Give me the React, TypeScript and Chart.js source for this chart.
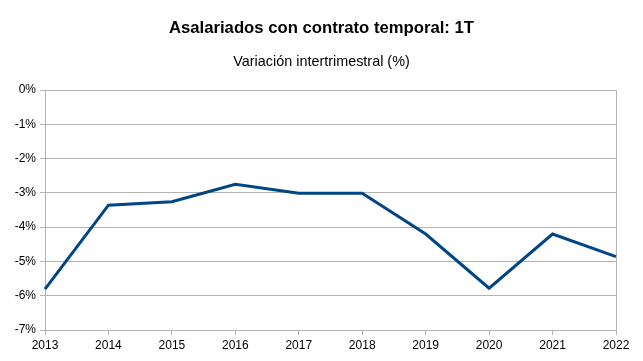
import React, { useEffect, useRef } from "react";
import { Chart, registerables } from "chart.js";

Chart.register(...registerables);

const years = ["2013", "2014", "2015", "2016", "2017", "2018", "2019", "2020", "2021", "2022"];
const variation = [-5.81, -3.36, -3.26, -2.75, -3.01, -3.01, -4.2, -5.78, -4.2, -4.86];
const titleText = "Asalariados con contrato temporal: 1T";
const subtitleText = "Variación intertrimestral (%)";

export default function App() {
  const ref = useRef<HTMLCanvasElement>(null);
  useEffect(() => {
    if (!ref.current) return;
    const gray = "#b3b3b3";
    const font = "'Liberation Sans', Arial, sans-serif";
    const chart = new Chart(ref.current, {
      type: "line",
      data: {
        labels: years,
        datasets: [
          {
            data: variation,
            borderColor: "#004586",
            backgroundColor: "#004586",
            borderWidth: 3,
            pointRadius: 0,
            tension: 0,
            yAxisID: "y",
          },
        ],
      },
      options: {
        animation: false,
        responsive: false,
        maintainAspectRatio: false,
        layout: { padding: 0 },
        plugins: {
          legend: { display: false },
          tooltip: { enabled: false },
          title: {
            display: true,
            text: titleText,
            color: "#000",
            font: { family: font, size: 16.7, weight: "bold", lineHeight: 1.2 },
            padding: { top: 18, bottom: 15.3 },
          },
          subtitle: {
            display: true,
            text: subtitleText,
            color: "#000",
            font: { family: font, size: 14.4, lineHeight: 1.2 },
            padding: { top: 0, bottom: 19.4 },
          },
        },
        scales: {
          x: {
            offset: false,
            grid: {
              display: true,
              drawOnChartArea: true,
              color: (ctx: any) => (ctx.index === years.length - 1 ? gray : "rgba(0,0,0,0)"),
              tickColor: gray,
              tickLength: 5,
            },
            border: { display: true, color: gray },
            ticks: {
              color: "#000",
              font: { family: font, size: 12 },
              padding: 3,
              maxRotation: 0,
              autoSkip: false,
            },
            afterFit: (s: any) => {
              s.height = 31;
            },
          },
          y: {
            position: "left",
            min: -7,
            max: 0,
            grid: { color: gray, tickColor: gray, tickLength: 5 },
            border: { display: true, color: gray },
            ticks: {
              stepSize: 1,
              color: "#000",
              font: { family: font, size: 12 },
              padding: 4,
              callback: (v: any) => `${v}%`,
            },
            afterFit: (s: any) => {
              s.width = 45;
            },
          },
          spacer: {
            type: "linear",
            position: "right",
            display: true,
            grid: { display: false },
            border: { display: false },
            ticks: { display: false },
            afterFit: (s: any) => {
              s.width = 27;
            },
          },
        },
      },
    });
    return () => chart.destroy();
  }, []);
  return (
    <div style={{ position: "fixed", left: 0, top: 0, width: 643, height: 361, background: "#fff" }}>
      <canvas ref={ref} width={643} height={361} style={{ width: 643, height: 361 }} />
    </div>
  );
}
